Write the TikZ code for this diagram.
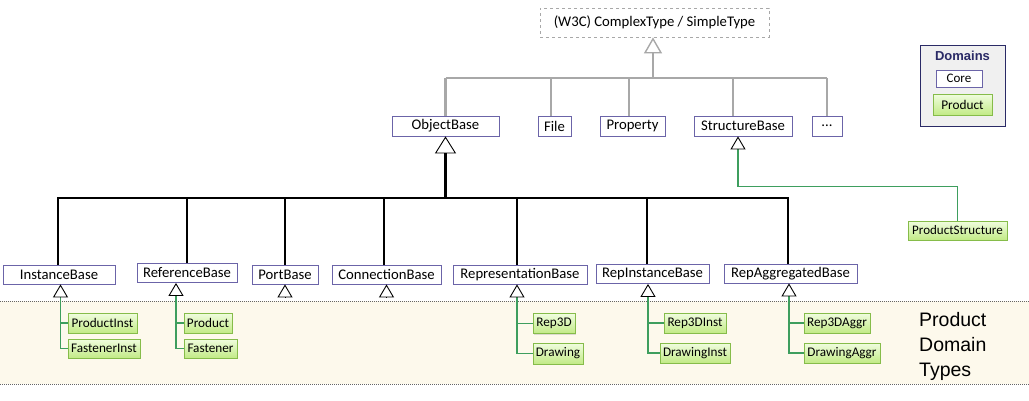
\documentclass[tikz,border=0pt]{standalone}
\usepackage{fontspec}
\setmainfont{Carlito}
\newfontfamily\arialf{Liberation Sans}
\usetikzlibrary{arrows.meta,shadows}
\definecolor{boxc}{HTML}{6B64A8}
\definecolor{grayc}{HTML}{A8A8A8}
\definecolor{greenl}{HTML}{3E9E5E}
\definecolor{gborder}{HTML}{86BC4A}
\definecolor{gtop}{HTML}{F0FDDF}
\definecolor{gbot}{HTML}{C2EA86}
\definecolor{bandc}{HTML}{FDF9EC}
\definecolor{navyc}{HTML}{2A2A66}
\definecolor{legfill}{HTML}{F0F0F0}
\tikzset{
  basebox/.style={draw=boxc, fill=white, line width=0.8pt, inner sep=0pt,
    font=\fontsize{14.7}{16}\selectfont, minimum height=19pt},
  greenbox/.style={draw=gborder, top color=gtop, bottom color=gbot, line width=0.8pt,
    inner sep=0pt, font=\fontsize{13.2}{15}\selectfont, minimum height=20pt,
    drop shadow={shadow xshift=1.2pt, shadow yshift=-1.2pt, opacity=0.25}},
  bline/.style={black, line width=2.6pt},
  gyline/.style={grayc, line width=2.3pt},
  gnline/.style={greenl, line width=1.1pt},
  tri/.style={-{Triangle[open, length=13pt, width=15pt, line width=0.9pt, color=black]}},
  bigtri/.style={-{Triangle[open, length=17pt, width=21pt, line width=0.9pt, color=black]}},
  graytri/.style={-{Triangle[open, length=16pt, width=18pt, line width=1.4pt, color=grayc]}},
  dotl/.style={draw=black!60, line width=0.8pt, dash pattern=on 1pt off 1pt}
}
\begin{document}
\begin{tikzpicture}[x=1pt,y=-1pt]
\useasboundingbox (0,0) rectangle (1029,400);
% band
\fill[bandc] (0,301) rectangle (1029,384);
\coordinate (bandTL) at (0,301);
\coordinate (bandTR) at (1029,301);
\coordinate (bandBL) at (0,384);
\coordinate (bandBR) at (1029,384);
\draw[dotl] (bandTL) -- (bandTR);
\draw[dotl] (bandBL) -- (bandBR);

% top
\node[draw=grayc, dashed, line width=0.8pt, inner sep=0pt, minimum width=229pt, minimum height=29pt,
  font=\fontsize{14.7}{16}\selectfont] (w3c) at (654.5,22.5) {(W3C) ComplexType / SimpleType};

\node[basebox, minimum width=107pt, minimum height=20pt] (ob) at (445.5,126) {ObjectBase};
\node[basebox, minimum width=33pt, minimum height=20pt] (file) at (554.5,126) {File};
\node[basebox, minimum width=65pt, minimum height=20pt] (prop) at (632.5,126) {Property};
\node[basebox, minimum width=98pt, minimum height=20pt] (sb) at (743,126) {StructureBase};
\node[basebox, minimum width=30pt, minimum height=20pt] (dots) at (827,126) {...};

\coordinate (tbus) at (653,78);
\draw[gyline, graytri] (tbus) -- ([xshift=-1.5pt]w3c.south);
\draw[gyline] (ob.north |- tbus) -- (dots.north |- tbus);
\draw[gyline] (ob.north) -- (ob.north |- tbus);
\coordinate (fileTop) at ([xshift=-3.5pt]file.north);
\coordinate (propTop) at ([xshift=-3.5pt]prop.north);
\coordinate (sbTop) at ([xshift=-10pt]sb.north);
\draw[gyline] (fileTop) -- (fileTop |- tbus);
\draw[gyline] (propTop) -- (propTop |- tbus);
\draw[gyline] (sbTop) -- (sbTop |- tbus);
\draw[gyline] (dots.north) -- (dots.north |- tbus);

% second row
\node[basebox, minimum width=112pt] (ib) at (59,274.5) {InstanceBase};
\node[basebox, minimum width=100pt] (rb) at (187,273) {ReferenceBase};
\node[basebox, minimum width=66pt] (pb) at (285,274.5) {PortBase};
\node[basebox, minimum width=109pt] (cb) at (386.5,274.5) {ConnectionBase};
\node[basebox, minimum width=134pt] (reb) at (520,274.5) {RepresentationBase};
\node[basebox, minimum width=113pt] (rib) at (652.5,274) {RepInstanceBase};
\node[basebox, minimum width=133pt] (rab) at (790.5,273.5) {RepAggregatedBase};

\coordinate (bus) at (445.5,198);
\coordinate (ibTop) at ([xshift=-1pt]ib.north);
\coordinate (cbTop) at ([xshift=-2.5pt]cb.north);
\coordinate (rebTop) at ([xshift=-3pt]reb.north);
\coordinate (ribTop) at ([xshift=-5.5pt]rib.north);
\coordinate (rabTop) at ([xshift=-2.5pt]rab.north);
\draw[bline, bigtri] (bus) -- (ob.south);
\draw[bline, line cap=rect] (ibTop |- bus) -- (rabTop |- bus);
\draw[bline] (ibTop) -- (ibTop |- bus);
\draw[bline] (rb.north) -- (rb.north |- bus);
\draw[bline] (pb.north) -- (pb.north |- bus);
\draw[bline] (cbTop) -- (cbTop |- bus);
\draw[bline] (rebTop) -- (rebTop |- bus);
\draw[bline] (ribTop) -- (ribTop |- bus);
\draw[bline] (rabTop) -- (rabTop |- bus);

% ProductStructure
\node[greenbox, minimum width=99pt, minimum height=19pt, font=\fontsize{13}{15}\selectfont] (ps) at (957.5,230.5) {ProductStructure};
\coordinate (sbBot) at ([xshift=-5pt]sb.south);
\coordinate (psBend) at ([yshift=-50pt]sbBot);
\draw[gnline, tri] (ps.north) |- (psBend) -- (sbBot);

% children
\node[greenbox, minimum width=69pt] (pi) at (102.5,323) {ProductInst};
\node[greenbox, minimum width=72pt, minimum height=19pt] (fi) at (104,348.5) {FastenerInst};
\node[greenbox, minimum width=48pt] (pr) at (208,323) {Product};
\node[greenbox, minimum width=53pt, minimum height=19pt] (fa) at (210.5,348.5) {Fastener};
\node[greenbox, minimum width=42pt] (r3) at (554,323.5) {Rep3D};
\node[greenbox, minimum width=50pt, minimum height=21pt] (dr) at (558,353.5) {Drawing};
\node[greenbox, minimum width=62pt] (r3i) at (695,323) {Rep3DInst};
\node[greenbox, minimum width=70pt] (dri) at (695,353) {DrawingInst};
\node[greenbox, minimum width=66pt] (r3a) at (837,323) {Rep3DAggr};
\node[greenbox, minimum width=76pt] (dra) at (842,353) {DrawingAggr};

\coordinate (ibBot) at ([xshift=1.5pt]ib.south);
\coordinate (rbBot) at ([xshift=-11pt]rb.south);
\coordinate (rebBot) at ([xshift=-3pt]reb.south);
\coordinate (ribBot) at ([xshift=-4.5pt]rib.south);
\coordinate (rabBot) at ([xshift=-1.5pt]rab.south);

\draw[gnline, tri] (fi.west) -| (ibBot);
\draw[gnline] (pi.west) -- (pi.west -| ibBot);
\draw[gnline, tri] (fa.west) -| (rbBot);
\draw[gnline] (pr.west) -- (pr.west -| rbBot);
\draw[gnline, tri] (dr.west) -| (rebBot);
\draw[gnline] (r3.west) -- (r3.west -| rebBot);
\draw[gnline, tri] (dri.west) -| (ribBot);
\draw[gnline] (r3i.west) -- (r3i.west -| ribBot);
\draw[gnline, tri] (dra.west) -| (rabBot);
\draw[gnline] (r3a.west) -- (r3a.west -| rabBot);

\coordinate (pbt) at ([yshift=-13pt]pb.south);
\coordinate (cbt) at ([yshift=-13pt]cb.south);
\draw[line width=0.9pt, tri] (pbt) -- (pb.south);
\draw[line width=0.9pt, tri] (cbt) -- (cb.south);

% legend
\node[draw=navyc, fill=legfill, line width=0.9pt, minimum width=85pt, minimum height=81pt, inner sep=0pt,
  drop shadow={shadow xshift=1.2pt, shadow yshift=-1.2pt, opacity=0.2}] (dom) at (962.5,85.5) {};
\node[font=\arialf\bfseries\fontsize{13}{15}\selectfont, text=navyc, inner sep=0pt] (domt) at (962.5,56) {Domains};
\node[basebox, minimum width=46pt, minimum height=17pt, font=\fontsize{13}{15}\selectfont] (core) at (959,78.5) {Core};
\node[greenbox, minimum width=59pt, minimum height=21pt, font=\fontsize{13.3}{15}\selectfont] (prl) at (962.5,104.5) {Product};

% band label
\node[font=\arialf\fontsize{19.5}{25}\selectfont, align=left, anchor=north west, inner sep=0pt] (pdt)
  at (919,312) {Product\\Domain\\Types};
\end{tikzpicture}
\end{document}
